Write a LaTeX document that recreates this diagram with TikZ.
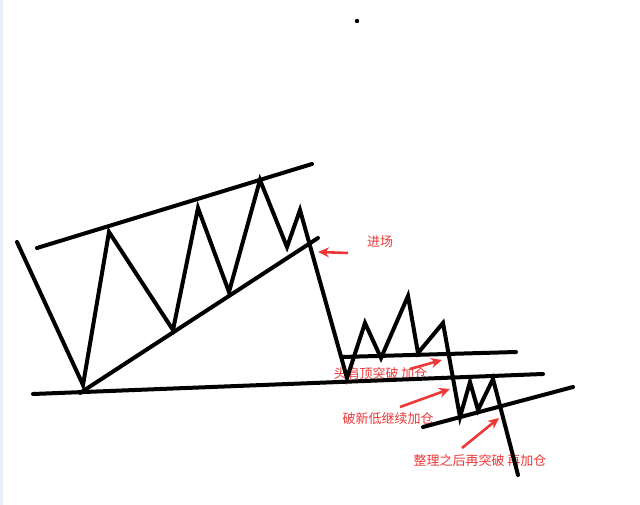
\documentclass[tikz,border=0pt]{standalone}
\usepackage{fontspec}
\newfontfamily\cjk{Noto Sans CJK SC}
\usetikzlibrary{arrows.meta}
\definecolor{markred}{RGB}{238,56,56}
\definecolor{edgeblue}{RGB}{234,239,250}
\tikzset{
  stroke/.style={line width=4pt, line cap=round, line join=miter, black},
  redarrow/.style={line width=2.6pt, markred, -{Stealth[length=11pt,width=10pt]}},
  note/.style={text=markred, font=\cjk\fontsize{13}{14}\selectfont, inner sep=0pt}
}
\begin{document}
\begin{tikzpicture}[x=1pt,y=-1pt]
\useasboundingbox (0,0) rectangle (640,505);
\fill[white] (0,0) rectangle (640,505);
\fill[edgeblue] (0,0) rectangle (3,505);
\fill[black] (357,21) circle (2.2pt);

% labels (drawn first so lines lie on top)
\node[note] (lEntry) at (380,242) {进场};
\node[note] (lHS) at (380.5,373) {头肩顶突破 加仓};
\node[note] (lLow) at (388,419) {破新低继续加仓};
\node[note] (lCons) at (480,461) {整理之后再突破 再加仓};

% price path points
\coordinate (p0) at (17,242);
\coordinate (p1) at (83,385);
\coordinate (p2) at (109,232);
\coordinate (p3) at (173,330);
\coordinate (p4) at (198,208);
\coordinate (p5) at (229,292);
\coordinate (p6) at (260,180);
\coordinate (p7) at (287,247);
\coordinate (p8) at (300,210);
\coordinate (p9) at (347,378);
\coordinate (p10) at (365,323);
\coordinate (p11) at (381,358);
\coordinate (p12) at (408,296);
\coordinate (p13) at (418,353);
\coordinate (p14) at (443,323);
\coordinate (p15) at (460,417);
\coordinate (p16) at (470,382);
\coordinate (p17) at (478,410);
\coordinate (p18) at (493,379);
\coordinate (p19) at (518,475);

\draw[stroke] (p0) -- (p1) -- (p2) -- (p3) -- (p4) -- (p5) -- (p6) -- (p7) -- (p8) -- (p9)
  -- (p10) -- (p11) -- (p12) -- (p13) -- (p14) -- (p15) -- (p16) -- (p17) -- (p18) -- (p19);

% trend lines
\coordinate (uA) at (37,248);  \coordinate (uB) at (312,164);
\coordinate (lA) at (80,393);  \coordinate (lB) at (318,238);
\coordinate (bA) at (33,394);  \coordinate (bB) at (543,374);
\coordinate (nA) at (342,357); \coordinate (nB) at (516,352);
\coordinate (tA) at (423,427); \coordinate (tB) at (573,387);
\draw[stroke] (uA) -- (uB);
\draw[stroke] (lA) -- (lB);
\draw[stroke] (bA) -- (bB);
\draw[stroke] (nA) -- (nB);
\draw[stroke] (tA) -- (tB);

% red arrows
\coordinate (a1t) at (348,253); \coordinate (a1h) at (318,252);
\coordinate (a2t) at (410,369); \coordinate (a2h) at (442,360);
\coordinate (a3t) at (400,407); \coordinate (a3h) at (450,389);
\coordinate (a4t) at (462,448); \coordinate (a4h) at (499,418);
\draw[redarrow] (a1t) -- (a1h);
\draw[redarrow] (a2t) -- (a2h);
\draw[redarrow] (a3t) -- (a3h);
\draw[redarrow] (a4t) -- (a4h);
\end{tikzpicture}
\end{document}
